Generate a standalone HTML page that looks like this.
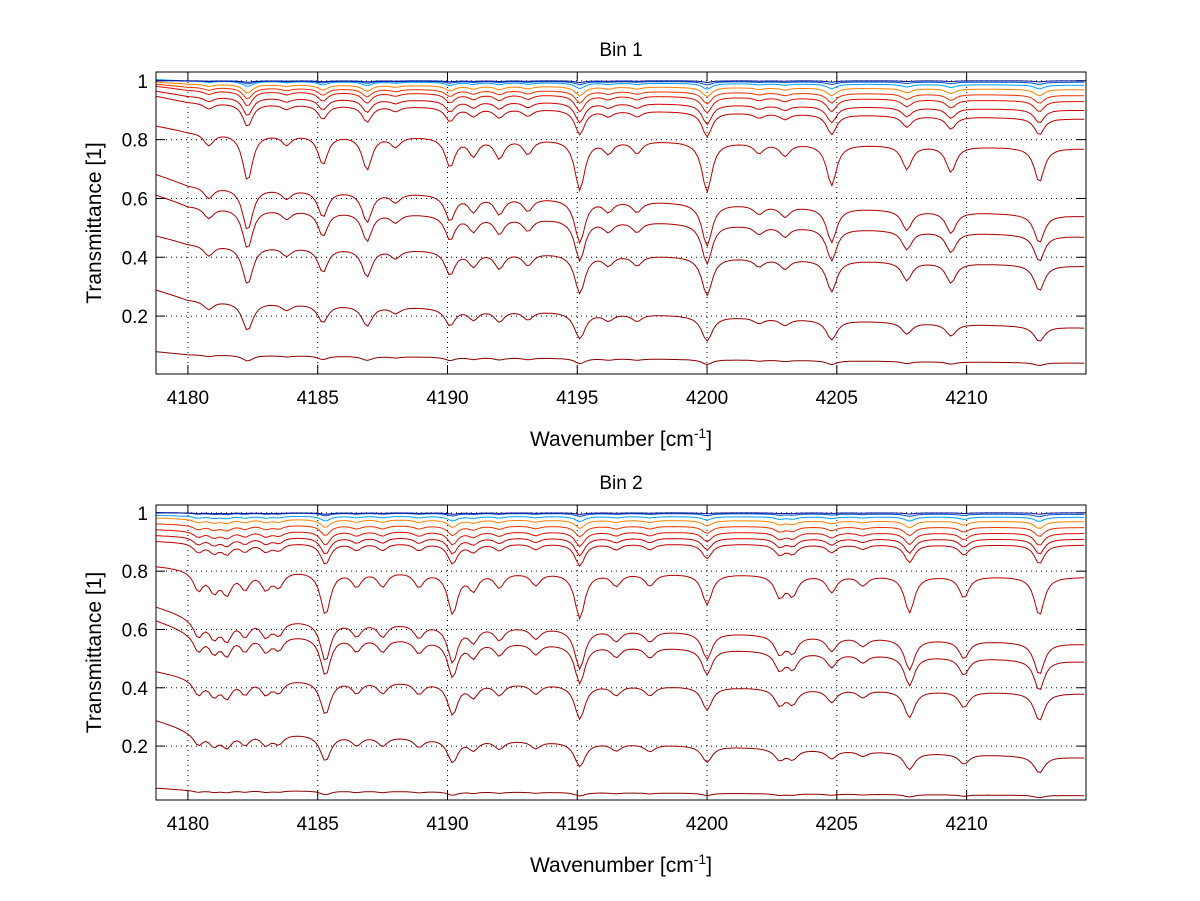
<!DOCTYPE html>
<html><head><meta charset="utf-8">
<style>
body{margin:0;background:#fff;}
svg{display:block;font-family:"Liberation Sans",sans-serif;}
</style></head>
<body>
<svg id="fig" width="1200" height="901" viewBox="0 0 1200 901"></svg>
<script>
// ---- data ----
const xTicks = [4180,4185,4190,4195,4200,4205,4210];
const yTicks = [0.2,0.4,0.6,0.8,1];
const titles = ["Bin 1","Bin 2"];
const baseLeft1  = [0.07,0.26,0.45,0.58,0.65,0.83,0.93,0.95,0.97,0.98,0.99,1.0,1.0,1.0];
const baseRight1 = [0.04,0.16,0.37,0.47,0.54,0.77,0.87,0.90,0.93,0.95,0.97,0.985,0.995,1.0];
const absScale1  = [0.35,0.5,0.36,0.28,0.26,0.22,0.09,0.07,0.055,0.04,0.03,0.018,0.01,0.005];
const lines1   = [4180.8,4182.3,4183.8,4185.2,4186.9,4188.0,4190.1,4191.0,4192.0,4193.1,4195.1,4196.2,4197.3,4200.0,4202.0,4203.0,4204.8,4207.7,4209.4,4212.8];
const depths1  = [0.25,1.0,0.2,0.6,0.7,0.2,0.6,0.35,0.4,0.3,1.1,0.25,0.25,1.1,0.2,0.25,0.9,0.5,0.55,0.75];
const baseLeft2  = [0.05,0.26,0.44,0.6,0.65,0.81,0.90,0.92,0.94,0.96,0.98,0.99,1.0,1.0];
const baseRight2 = [0.03,0.16,0.38,0.49,0.55,0.78,0.89,0.91,0.93,0.95,0.97,0.985,0.995,1.0];
const absScale2  = [0.35,0.5,0.34,0.28,0.26,0.22,0.09,0.07,0.055,0.04,0.03,0.018,0.01,0.005];
const lines2   = [4180.4,4181.0,4181.5,4182.2,4183.0,4183.5,4185.3,4186.5,4187.5,4188.9,4190.2,4191.0,4192.0,4193.4,4195.1,4196.5,4197.8,4200.0,4202.8,4203.3,4204.8,4206.0,4207.8,4209.9,4212.8];
const depths2  = [0.4,0.4,0.45,0.35,0.35,0.3,0.95,0.3,0.3,0.3,0.9,0.35,0.3,0.25,1.0,0.25,0.25,0.65,0.45,0.4,0.35,0.2,0.8,0.45,0.85];
const colors = ["#8b0000","#990000","#a00000","#aa0000","#b00000","#b80000","#c40000","#d00000","#e01000","#ee3000","#ff8000","#00a0ff","#0050d0","#001090"];
// ---- drawing ----
const svg=document.getElementById('fig');const NS="http://www.w3.org/2000/svg";
function mk(t,a,p){const e=document.createElementNS(NS,t);for(const k in a)e.setAttribute(k,a[k]);(p||svg).appendChild(e);return e;}
const XMIN=4178.77,XMAX=4214.6;
function panel(idx,top,bottom,ymin,ymax,bl,br,sc,lc,dp){
  const L=156,R=1086;
  const g=mk('g',{});
  
  
  const sx=v=>L+(v-XMIN)/(XMAX-XMIN)*(R-L);
  const sy=v=>bottom-(v-ymin)/(ymax-ymin)*(bottom-top);
  mk('rect',{x:L,y:top,width:R-L,height:bottom-top,fill:'#fff'},g);
  xTicks.forEach(t=>{const l=mk('line',{x1:sx(t),x2:sx(t),y1:top,y2:bottom,stroke:'#000','stroke-width':1,'stroke-dasharray':'1,4'},g);
    
    mk('line',{x1:sx(t),x2:sx(t),y1:bottom,y2:bottom-9,stroke:'#000'},g);mk('line',{x1:sx(t),x2:sx(t),y1:top,y2:top+9,stroke:'#000'},g);
    const tx=mk('text',{x:sx(t),y:bottom+30,'text-anchor':'middle','font-size':19},g);tx.textContent=t;
    });
  yTicks.forEach(t=>{const l=mk('line',{x1:L,x2:R,y1:sy(t),y2:sy(t),stroke:'#000','stroke-width':1,'stroke-dasharray':'1,4'},g);
    
    mk('line',{x1:L,x2:L+9,y1:sy(t),y2:sy(t),stroke:'#000'},g);mk('line',{x1:R,x2:R-9,y1:sy(t),y2:sy(t),stroke:'#000'},g);
    const tx=mk('text',{x:L-8,y:sy(t)+7,'text-anchor':'end','font-size':19},g);tx.textContent=t;
    });
  const cp=mk('clipPath',{id:'cp'+idx},g);mk('rect',{x:L,y:top,width:R-L,height:bottom-top},cp);
  const cg=mk('g',{'clip-path':'url(#cp'+idx+')'},g);
  for(let c=0;c<bl.length;c++){
    let d='';
    for(let x=XMIN;x<=XMAX;x+=0.12){
      const f=(x-XMIN)/(XMAX-XMIN);
      let b=bl[c]+(br[c]-bl[c])*Math.min(1,f*1.0);
      if(x<4180.0)b+= (bl[c]-br[c])*0.6*(1-(x-XMIN)/(4180-XMIN))*0.5;
      let a=0;for(let i=0;i<lc.length;i++){const u=(x-lc[i])/0.22;a+=dp[i]/(1+u*u);}
      const v=b*Math.exp(-sc[c]*a);
      d+=(d?'L':'M')+sx(x).toFixed(1)+','+sy(v).toFixed(1);
    }
    const p=mk('path',{d:d,fill:'none',stroke:colors[c],'stroke-width':1},cg);
    
    
  }
  const fr=mk('rect',{x:L,y:top,width:R-L,height:bottom-top,fill:'none',stroke:'#000','stroke-width':1},g);
  
  const tt=mk('text',{x:(L+R)/2,y:top-16,'text-anchor':'middle','font-size':19},g);tt.textContent=titles[idx];
  
  const xl=mk('text',{x:(L+R)/2,y:bottom+72,'text-anchor':'middle','font-size':21},g);
  xl.innerHTML='Wavenumber [cm<tspan dy="-8" font-size="14">-1</tspan><tspan dy="8">]</tspan>';
  
  const yl=mk('text',{x:0,y:0,'text-anchor':'middle','font-size':21,transform:'translate(101,'+((top+bottom)/2)+') rotate(-90)'},g);
  yl.textContent='Transmittance [1]';
  
}
panel(0,72,374,0.003,1.03,baseLeft1,baseRight1,absScale1,lines1,depths1);
panel(1,505,800,0.015,1.027,baseLeft2,baseRight2,absScale2,lines2,depths2);
</script>
</body></html>
